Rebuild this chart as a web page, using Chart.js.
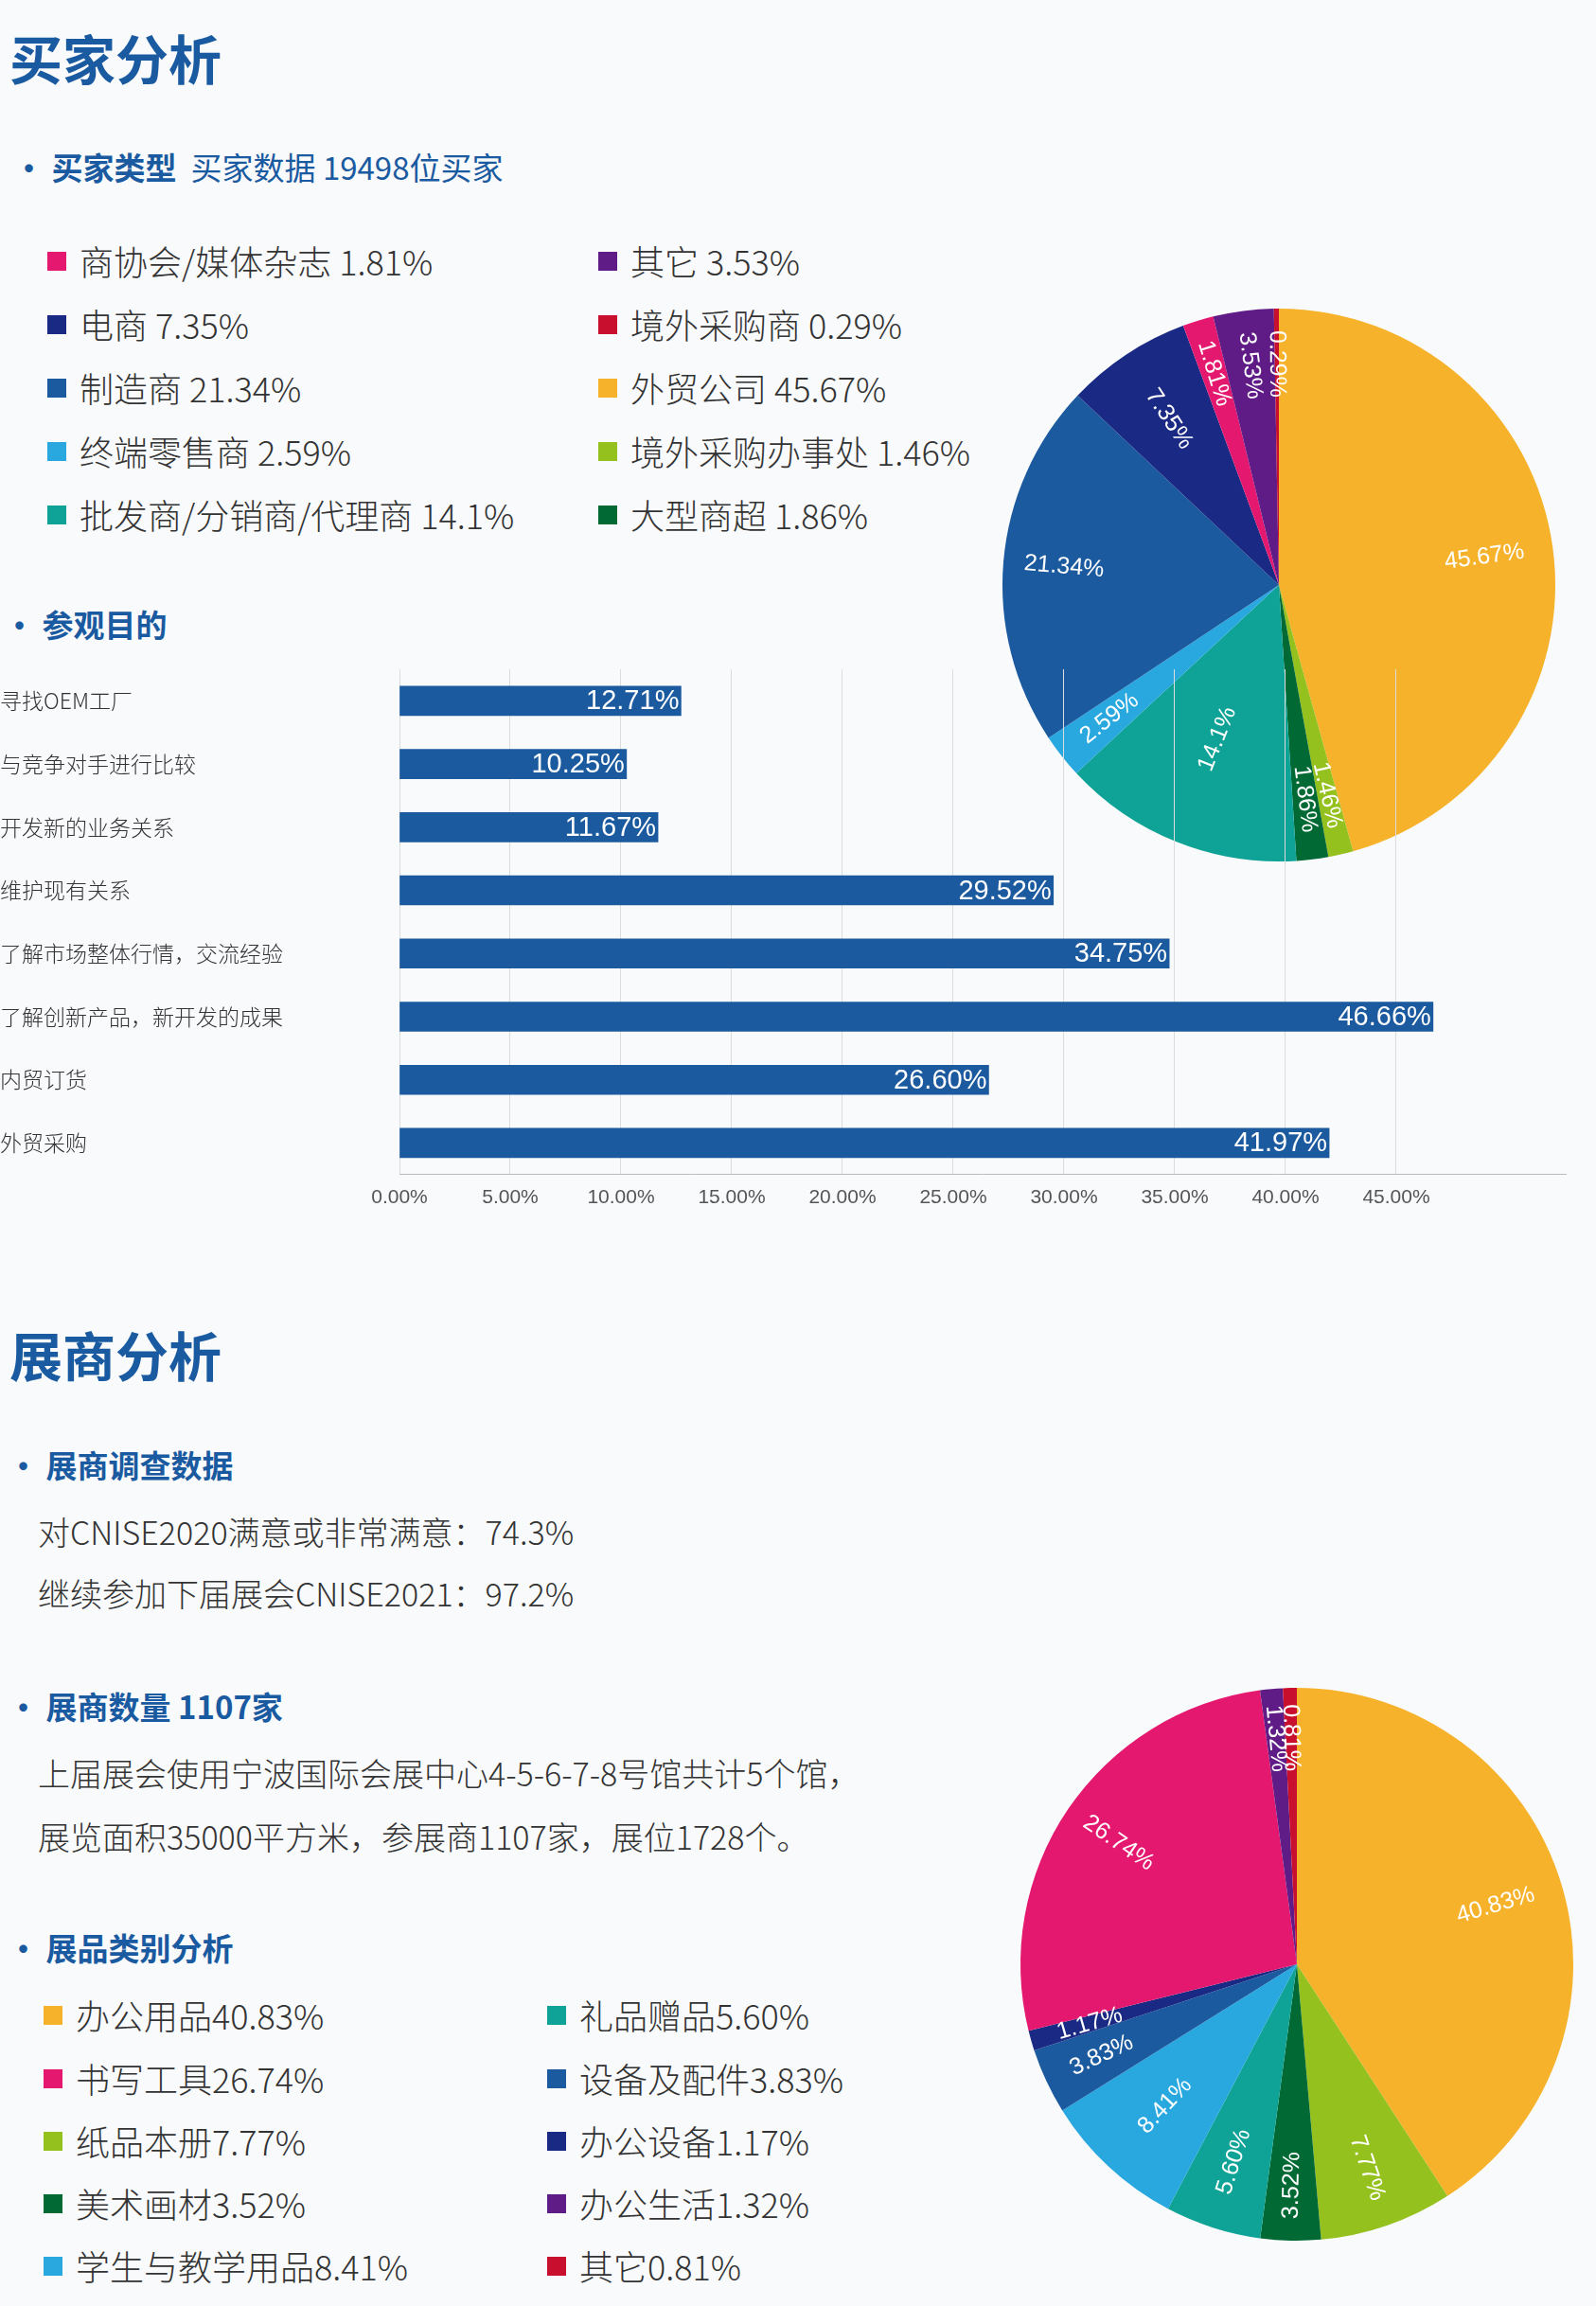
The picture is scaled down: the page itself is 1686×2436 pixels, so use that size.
<!DOCTYPE html>
<html><head><meta charset="utf-8">
<script src="https://cdn.jsdelivr.net/npm/chart.js@4"></script>
<style>
body{margin:0;width:1686px;height:2436px;background:#f9fafc;position:relative;font-family:"Noto Sans CJK SC",sans-serif;overflow:hidden}
.t{position:absolute;white-space:nowrap;line-height:1}
.h1{font-size:56px;font-weight:700;color:#1a5aa0}
.h2{font-size:33px;font-weight:700;color:#1a5aa0}
.h2 span{font-weight:400}
.lg{font-size:36px;font-weight:300;color:#333}
.sq{position:absolute;width:20px;height:20px}
.p{font-size:34px;font-weight:300;color:#333}
canvas{position:absolute}
</style></head><body>
<div class="t h1" style="left:10px;top:32px">买家分析</div>
<div class="t h2" style="left:14px;top:160px">• 买家类型 &nbsp;<span>买家数据 19498位买家</span></div>
<div class="t h2" style="left:4px;top:643px">• 参观目的</div>
<div class="t h1" style="left:10px;top:1402px">展商分析</div>
<div class="t h2" style="left:8px;top:1531px">• 展商调查数据</div>
<div class="t p" style="left:40px;top:1601px">对CNISE2020满意或非常满意：74.3%</div>
<div class="t p" style="left:40px;top:1666px">继续参加下届展会CNISE2021：97.2%</div>
<div class="t h2" style="left:8px;top:1786px">• 展商数量 1107家</div>
<div class="t p" style="left:40px;top:1856px">上届展会使用宁波国际会展中心4-5-6-7-8号馆共计5个馆，</div>
<div class="t p" style="left:40px;top:1923px">展览面积35000平方米，参展商1107家，展位1728个。</div>
<div class="t h2" style="left:8px;top:2041px">• 展品类别分析</div>
<div id="leg"></div>
<canvas id="pie1" width="660" height="660" style="left:1021px;top:288px;width:660px;height:660px"></canvas>
<canvas id="bar" width="1686" height="600" style="left:0;top:690px;width:1686px;height:600px"></canvas>
<canvas id="pie2" width="660" height="660" style="left:1040px;top:1745px;width:660px;height:660px"></canvas>
<script>
const buyerLabels=['外贸公司','境外采购办事处','大型商超','批发商/分销商/代理商','终端零售商','制造商','电商','商协会/媒体杂志','其它','境外采购商'];
const buyerValues=[45.67,1.46,1.86,14.1,2.59,21.34,7.35,1.81,3.53,0.29];
const buyerText=['45.67%','1.46%','1.86%','14.1%','2.59%','21.34%','7.35%','1.81%','3.53%','0.29%'];
const buyerColors=['#f7b22b','#95c11f','#006934','#0ea396','#29a8e0','#1b5a9e','#1a2a84','#e4186f','#5f1b86','#c8102e'];
const visitLabels=['寻找OEM工厂','与竞争对手进行比较','开发新的业务关系','维护现有关系','了解市场整体行情，交流经验','了解创新产品，新开发的成果','内贸订货','外贸采购'];
const visitValues=[12.71,10.25,11.67,29.52,34.75,46.66,26.60,41.97];
const exLabels=['办公用品','纸品本册','美术画材','礼品赠品','学生与教学用品','设备及配件','办公设备','书写工具','办公生活','其它'];
const exValues=[40.83,7.77,3.52,5.60,8.41,3.83,1.17,26.74,1.32,0.81];
const exColors=['#f7b22b','#95c11f','#006934','#0ea396','#29a8e0','#1b5a9e','#1a2a84','#e4186f','#5f1b86','#c8102e'];
const fmt2=v=>v.toFixed(2)+'%';

// legends
const leg=document.getElementById('leg');
function addLeg(x,y,color,text){
  leg.insertAdjacentHTML('beforeend',`<div class="sq" style="left:${x}px;top:${y+9}px;background:${color}"></div><div class="t lg" style="left:${x+34}px;top:${y}px">${text}</div>`);
}
const b1=[[7,0],[6,1],[5,2],[4,3],[3,4]], b2=[[8,0],[9,1],[0,2],[1,3],[2,4]];
const r1=[257,324,391,458,525];
b1.forEach(([i,r])=>addLeg(50,r1[r],buyerColors[i],buyerLabels[i]+' '+buyerText[i]));
b2.forEach(([i,r])=>addLeg(632,r1[r],buyerColors[i],buyerLabels[i]+' '+buyerText[i]));
const r2=[2110,2177,2243,2309,2375];
[0,7,1,2,4].forEach((i,r)=>addLeg(46,r2[r],exColors[i],exLabels[i]+fmt2(exValues[i])));
[3,5,6,8,9].forEach((i,r)=>addLeg(578,r2[r],exColors[i],exLabels[i]+fmt2(exValues[i])));

const pieLabels={id:'pieLabels',afterDatasetsDraw(chart,args,opts){
  const ctx=chart.ctx;const meta=chart.getDatasetMeta(0);
  meta.data.forEach((arc,i)=>{
    const a=(arc.startAngle+arc.endAngle)/2;const r=arc.outerRadius*opts.pos[i];
    const x=arc.x+Math.cos(a)*r,y=arc.y+Math.sin(a)*r;
    let rot=a;while(rot>Math.PI)rot-=2*Math.PI;while(rot<-Math.PI)rot+=2*Math.PI;
    if(rot<-Math.PI/2)rot+=Math.PI;else if(rot>Math.PI/2)rot-=Math.PI;
    ctx.save();ctx.translate(x,y);ctx.rotate(rot);ctx.fillStyle='#fff';
    ctx.font='25px "Liberation Sans"';ctx.textAlign='center';ctx.textBaseline='middle';
    ctx.fillText(opts.text[i],0,0);ctx.restore();
  });
}};
function pie(id,labels,values,colors,text,pos){
  new Chart(document.getElementById(id),{type:'pie',data:{labels,datasets:[{data:values,backgroundColor:colors,borderWidth:0}]},
    options:{responsive:false,animation:false,radius:292,plugins:{legend:{display:false},tooltip:{enabled:false},pieLabels:{text,pos}}},plugins:[pieLabels]});
}
pie('pie1',buyerLabels,buyerValues,buyerColors,buyerText,[0.75,0.78,0.78,0.6,0.78,0.78,0.72,0.8,0.8,0.8]);
pie('pie2',exLabels,exValues,exColors,exValues.map(fmt2),[0.75,0.78,0.8,0.75,0.7,0.78,0.78,0.78,0.82,0.82]);

const barLabels={id:'barLabels',afterDatasetsDraw(chart){
  const ctx=chart.ctx;const meta=chart.getDatasetMeta(0);
  meta.data.forEach((b,i)=>{ctx.save();ctx.fillStyle='#fff';ctx.font='29px "Liberation Sans Narrow","Liberation Sans"';
    ctx.textAlign='right';ctx.textBaseline='middle';ctx.fillText(fmt2(visitValues[i]),b.x-2,b.y+1);ctx.restore();});
}};
new Chart(document.getElementById('bar'),{type:'bar',data:{labels:visitLabels,datasets:[{data:visitValues,backgroundColor:'#1b5a9e',barThickness:31}]},
  options:{indexAxis:'y',responsive:false,animation:false,layout:{padding:{top:17,right:32,left:0,bottom:0}},
    plugins:{legend:{display:false},tooltip:{enabled:false}},
    scales:{
      x:{min:0,max:52.65,afterBuildTicks:s=>{s.ticks=s.ticks.filter(t=>Math.abs(t.value/5-Math.round(t.value/5))<1e-6);},
        ticks:{stepSize:5,callback:v=>v.toFixed(2)+'%',color:'#555',font:{size:21,family:'"Liberation Sans Narrow","Liberation Sans"'},padding:12,maxRotation:0},
        grid:{color:'#dcdcdc',drawTicks:false},border:{color:'#bbb'}},
      y:{afterFit:s=>{s.width=422},ticks:{crossAlign:'far',color:'#333',padding:0,font:{size:23,family:'"Noto Sans CJK SC"',weight:300}},
        grid:{display:false},border:{display:false}}
    }},plugins:[barLabels]});
</script>
</body></html>
